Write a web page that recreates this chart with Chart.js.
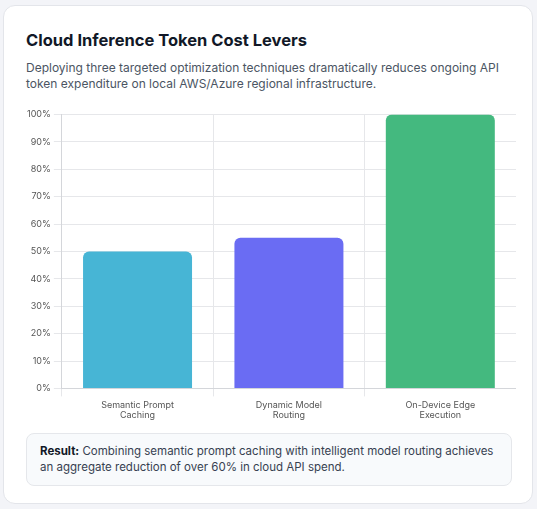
<!DOCTYPE html><html><head><meta charset="utf-8">
<script src="https://cdn.jsdelivr.net/npm/chart.js@4"></script>
<style>
html,body{margin:0;padding:0;background:#f3f4f8;font-family:Inter,"Noto Sans",sans-serif;}
.card{position:absolute;left:3px;top:5px;width:530px;height:499px;background:#fff;border:1px solid #e3e5ea;border-radius:12px;box-sizing:border-box;}
h1{position:absolute;left:22px;top:24px;margin:0;font-size:16.5px;font-weight:700;color:#111827;}
.sub{position:absolute;left:22px;top:54px;width:480px;margin:0;font-size:12px;line-height:16px;color:#4b5563;}
.cw{position:absolute;left:20px;top:100px;width:492px;height:318px;}
.res{position:absolute;left:22px;top:427px;width:486px;height:53px;box-sizing:border-box;background:#f8fafc;border:1px solid #e5e7eb;border-radius:8px;padding:9px 13px;font-size:11.5px;line-height:16px;color:#374151;}
</style></head><body>
<div class="card">
<h1>Cloud Inference Token Cost Levers</h1>
<p class="sub">Deploying three targeted optimization techniques dramatically reduces ongoing API token expenditure on local AWS/Azure regional infrastructure.</p>
<div class="cw"><canvas id="c"></canvas></div>
<div class="res"><b style="color:#111827">Result:</b> Combining semantic prompt caching with intelligent model routing achieves an aggregate reduction of over 60% in cloud API spend.</div>
</div>
<script>
const categories=[["Semantic Prompt","Caching"],["Dynamic Model","Routing"],["On-Device Edge","Execution"]];
const values=[50,55,100];
const colors=["#47b5d5","#6a6cf3","#44b97f"];
new Chart(document.getElementById('c'),{type:'bar',
data:{labels:categories,datasets:[{data:values,backgroundColor:colors,borderRadius:{topLeft:6,topRight:6},borderSkipped:'bottom',barPercentage:0.72,categoryPercentage:1}]},
options:{responsive:true,maintainAspectRatio:false,animation:false,
plugins:{legend:{display:false},tooltip:{enabled:false}},
scales:{y:{min:0,max:100,ticks:{stepSize:10,callback:v=>v+'%',color:'#555',font:{size:9,family:'Inter'}},grid:{color:'#e6e7ea'},border:{color:'#d4d6da'}},
x:{ticks:{color:'#555',font:{size:9,family:'Inter'},maxRotation:0},grid:{color:'#e6e7ea',offset:true},border:{color:'#d4d6da'}}}}});
</script></body></html>
